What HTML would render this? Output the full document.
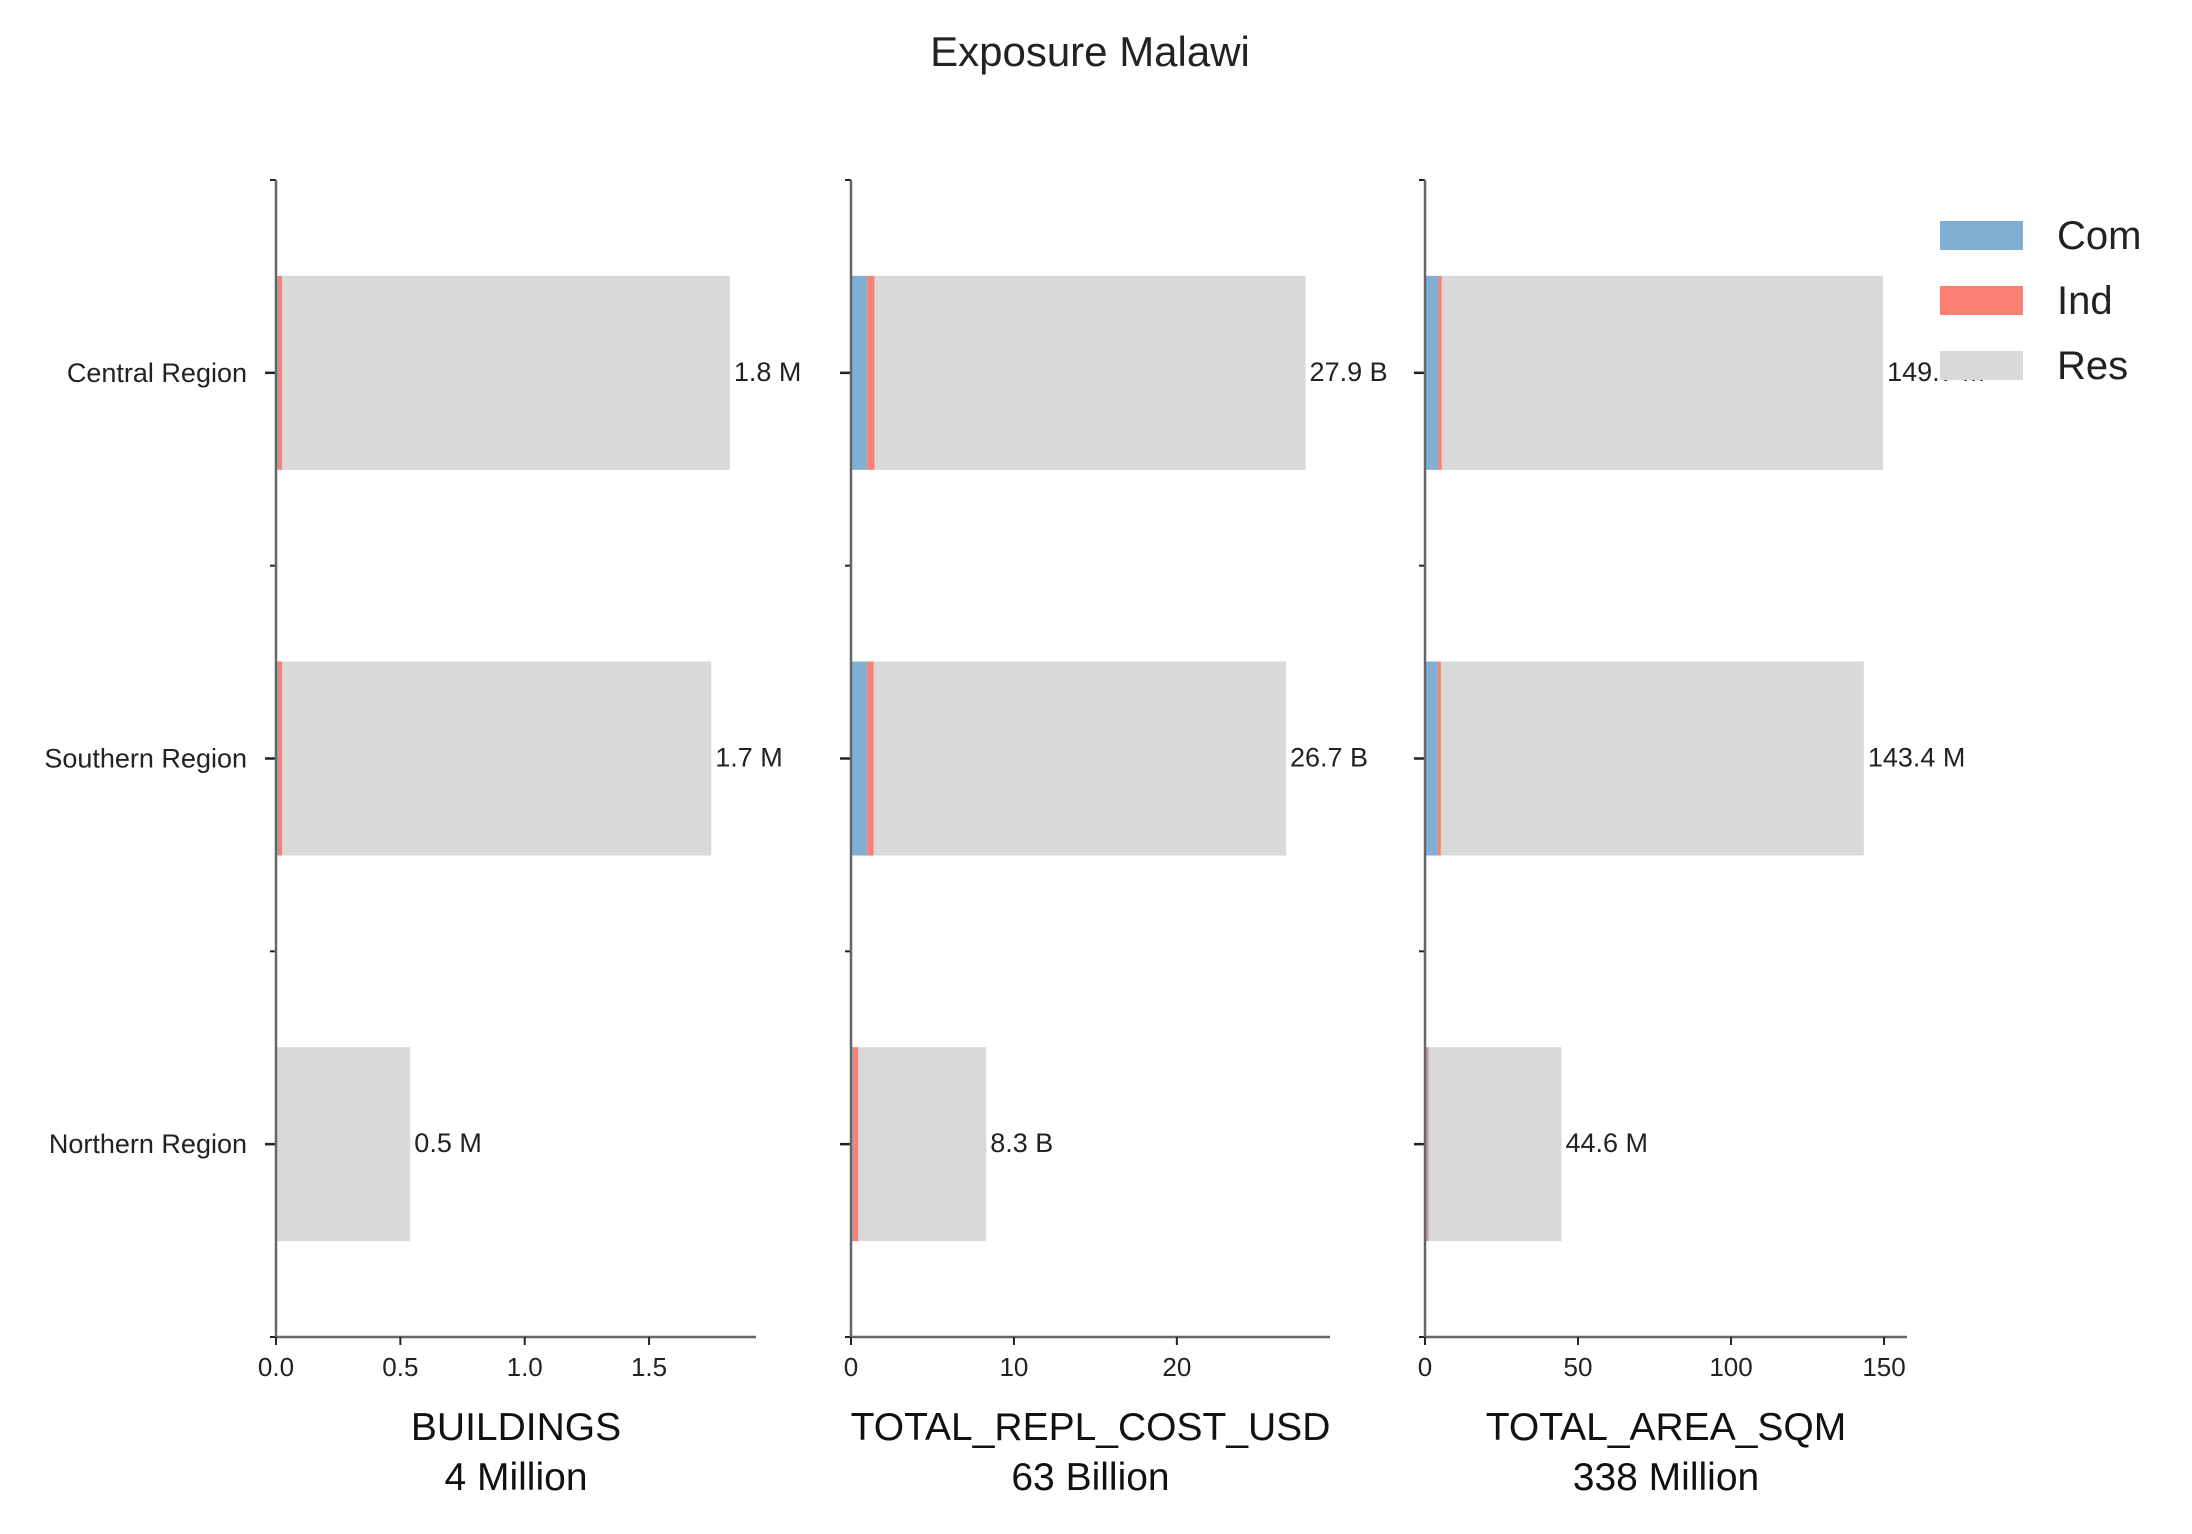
<!DOCTYPE html>
<html><head><meta charset="utf-8"><style>
html,body{margin:0;padding:0;background:#fff;}
svg{display:block;font-family:"Liberation Sans","DejaVu Sans",sans-serif;}
</style></head><body>
<svg id="chart" width="2192" height="1534" viewBox="0 0 2192 1534" xmlns="http://www.w3.org/2000/svg">
<text x="1090" y="66" font-size="42" text-anchor="middle" fill="#222">Exposure Malawi</text>
</svg>
<script>
const categories = ["Central Region", "Southern Region", "Northern Region"];
const seriesNames = ["Com", "Ind", "Res"];
const buildingsCom = [0.01, 0.01, 0.002];
const buildingsInd = [0.015, 0.015, 0.003];
const buildingsRes = [1.80, 1.725, 0.535];
const buildingsLabels = ["1.8 M", "1.7 M", "0.5 M"];
const costCom = [1.0, 1.0, 0.15];
const costInd = [0.45, 0.4, 0.3];
const costRes = [26.45, 25.3, 7.85];
const costLabels = ["27.9 B", "26.7 B", "8.3 B"];
const areaCom = [4.4, 4.2, 0.8];
const areaInd = [1.1, 1.0, 0.4];
const areaRes = [144.2, 138.2, 43.4];
const areaLabels = ["149.7 M", "143.4 M", "44.6 M"];
const buildingsTicks = [0, 0.5, 1.0, 1.5];
const buildingsTickLabels = ["0.0", "0.5", "1.0", "1.5"];
const costTicks = [0, 10, 20];
const areaTicks = [0, 50, 100, 150];
const titles = [["BUILDINGS", "4 Million"], ["TOTAL_REPL_COST_USD", "63 Billion"], ["TOTAL_AREA_SQM", "338 Million"]];

const NS = "http://www.w3.org/2000/svg";
const svg = document.getElementById("chart");
const colors = ["#7fb0d3", "#fb8072", "#d9d9d9"];
function mk(tag, attrs, parent) {
  const e = document.createElementNS(NS, tag);
  for (const k in attrs) e.setAttribute(k, attrs[k]);
  (parent || svg).appendChild(e);
  return e;
}
const yTop = 180, yBot = 1337, catStep = (1337 - 180) / 3;
function yScale(i) { return yTop + (i + 0.5) * catStep; }
const barH = 194;

const panels = [
  {x0: 276, xEnd: 756, max: 1.93, series: [buildingsCom, buildingsInd, buildingsRes], labels: buildingsLabels, ticks: buildingsTicks, tickLabels: buildingsTickLabels, showCats: true, key: "buildings"},
  {x0: 851, xEnd: 1330, max: 29.4, series: [costCom, costInd, costRes], labels: costLabels, ticks: costTicks, tickLabels: costTicks.map(String), showCats: false, key: "cost"},
  {x0: 1425, xEnd: 1907, max: 157.5, series: [areaCom, areaInd, areaRes], labels: areaLabels, ticks: areaTicks, tickLabels: areaTicks.map(String), showCats: false, key: "area"}
];

panels.forEach((p, pi) => {
  const g = mk("g", {});
  
  
  const xs = v => p.x0 + v / p.max * (p.xEnd - p.x0);
  categories.forEach((c, ci) => {
    let acc = 0;
    p.series.forEach((s, si) => {
      const r = mk("rect", {x: xs(acc), y: yScale(ci) - barH / 2, width: xs(acc + s[ci]) - xs(acc), height: barH, fill: colors[si]}, g);
      
      
      acc += s[ci];
    });
    const t = mk("text", {x: xs(acc) + 4, y: yScale(ci) + 8, "font-size": 27, fill: "#222"}, g);
    
    
    t.textContent = p.labels[ci];
    const tk = mk("line", {x1: p.x0 - 11, x2: p.x0, y1: yScale(ci), y2: yScale(ci), stroke: "#222", "stroke-width": 2.5}, g);
    
    
    if (p.showCats) {
      const ct = mk("text", {x: p.x0 - 29, y: yScale(ci) + 9, "font-size": 27, "text-anchor": "end", fill: "#222"}, g);
      
      
      ct.textContent = c;
    }
  });
  for (let k = 0; k <= categories.length; k++) {
    const y = yTop + k * catStep;
    const m = mk("line", {x1: p.x0 - 6, x2: p.x0, y1: y, y2: y, stroke: "#222", "stroke-width": 2}, g);
    
    
  }
  const ya = mk("line", {x1: p.x0, x2: p.x0, y1: yTop, y2: yBot, stroke: "#666", "stroke-width": 2.5}, g);
  
  
  const xa = mk("line", {x1: p.x0, x2: p.xEnd, y1: yBot, y2: yBot, stroke: "#666", "stroke-width": 2.5}, g);
  
  
  p.ticks.forEach((v, ti) => {
    const l = mk("line", {x1: xs(v), x2: xs(v), y1: yBot, y2: yBot + 8, stroke: "#222", "stroke-width": 2}, g);
    
    
    const t = mk("text", {x: xs(v), y: yBot + 39, "font-size": 26, "text-anchor": "middle", fill: "#222"}, g);
    
    
    t.textContent = p.tickLabels[ti];
  });
  const cx = (p.x0 + p.xEnd) / 2;
  const t1 = mk("text", {x: cx, y: 1440, "font-size": 39, "text-anchor": "middle", fill: "#111"}, g);
  
  
  t1.textContent = titles[pi][0];
  const t2 = mk("text", {x: cx, y: 1490, "font-size": 39, "text-anchor": "middle", fill: "#111"}, g);
  
  
  t2.textContent = titles[pi][1];
});

const lg = mk("g", {});


seriesNames.forEach((n, i) => {
  const y = 221 + i * 65;
  const r = mk("rect", {x: 1940, y: y, width: 83, height: 29, fill: colors[i]}, lg);
  
  
  const t = mk("text", {x: 2057, y: y + 28, "font-size": 40, fill: "#222"}, lg);
  
  
  t.textContent = n;
});
</script>
</body></html>
